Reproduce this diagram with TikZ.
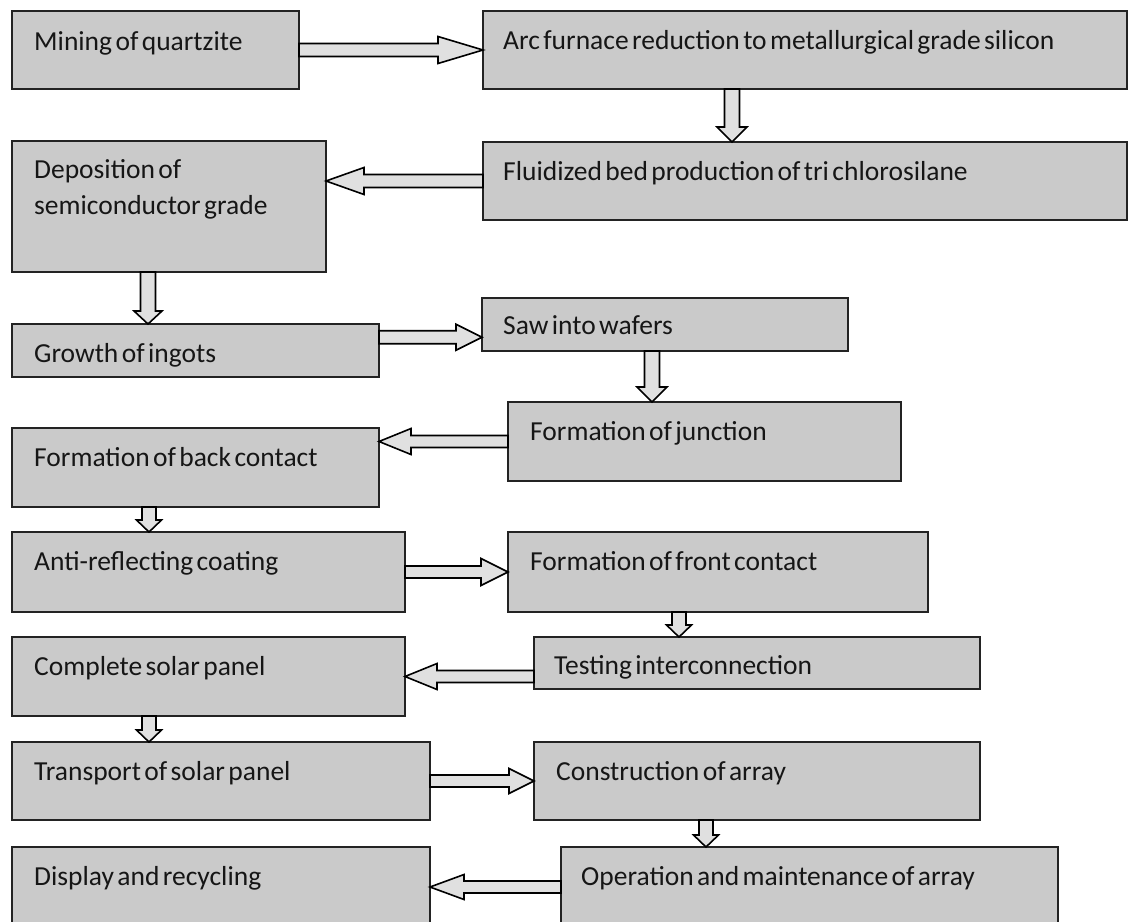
\documentclass[tikz,border=0pt]{standalone}
\usepackage{fontspec}
\setmainfont{Carlito}[WordSpace=0.55]
\usetikzlibrary{calc}
\definecolor{boxfill}{RGB}{202,202,202}
\definecolor{arrfill}{RGB}{224,224,224}
\definecolor{edge}{RGB}{35,35,35}
\definecolor{txt}{RGB}{22,22,22}
\tikzset{
  box/.style={draw=edge, line width=1.8pt, fill=boxfill, inner sep=0pt, outer sep=0pt, anchor=north west},
  lbl/.style={anchor=base west, inner sep=0pt, text=txt, font=\fontsize{27.5}{36}\selectfont},
  barrow/.style={draw=black, line width=1.6pt, fill=arrfill, line join=miter},
}
% #1 start, #2 tip, #3 head length, #4 half shaft width, #5 half head width
\newcommand{\blockarrow}[5]{%
  \path ($(#2)!#3!(#1)$) coordinate (ba-h);
  \draw[barrow] ($(#1)!#4!90:(#2)$) -- ($(ba-h)!#4!90:(#2)$) -- ($(ba-h)!#5!90:(#2)$)
    -- (#2) -- ($(ba-h)!#5!-90:(#2)$) -- ($(ba-h)!#4!-90:(#2)$) -- ($(#1)!#4!-90:(#2)$) -- cycle;
}
\begin{document}
\begin{tikzpicture}[x=1pt,y=-1pt]
\useasboundingbox (0,0) rectangle (1129,921);
\clip (0,0) rectangle (1129,921);
\fill[white] (0,0) rectangle (1129,921);

% boxes
\node[box, minimum width=287pt, minimum height=78pt] (b1) at (12,11) {};
\node[box, minimum width=644pt, minimum height=78pt] (b2) at (483,11) {};
\node[box, minimum width=644pt, minimum height=78pt] (b3) at (483,142) {};
\node[box, minimum width=314pt, minimum height=131pt] (b4) at (12,141) {};
\node[box, minimum width=367pt, minimum height=53pt] (b5) at (12,324) {};
\node[box, minimum width=366pt, minimum height=53pt] (b6) at (482,298) {};
\node[box, minimum width=393pt, minimum height=79pt] (b7) at (508,402) {};
\node[box, minimum width=367pt, minimum height=79pt] (b8) at (12,428) {};
\node[box, minimum width=393pt, minimum height=80pt] (b9) at (12,532) {};
\node[box, minimum width=420pt, minimum height=80pt] (b10) at (508,532) {};
\node[box, minimum width=446pt, minimum height=52pt] (b11) at (534,637) {};
\node[box, minimum width=393pt, minimum height=79pt] (b12) at (12,637) {};
\node[box, minimum width=418pt, minimum height=78pt] (b13) at (12,742) {};
\node[box, minimum width=446pt, minimum height=78pt] (b14) at (534,742) {};
\node[box, minimum width=418pt, minimum height=80pt] (b15) at (12,847) {};
\node[box, minimum width=497pt, minimum height=80pt] (b16) at (561,847) {};

% labels
\node[lbl] (t1) at ([shift={(22pt,-39pt)}]b1.north west) {Mining of quartzite};
\node[lbl] (t2) at ([shift={(20pt,-38pt)}]b2.north west) {Arc furnace reduction to metallurgical grade silicon};
\node[lbl] (t3) at ([shift={(20pt,-38pt)}]b3.north west) {Fluidized bed production of tri chlorosilane};
\node[lbl] (t4a) at ([shift={(22pt,-37pt)}]b4.north west) {Deposition of};
\node[lbl] (t4b) at ([shift={(22pt,-73pt)}]b4.north west) {semiconductor grade};
\node[lbl] (t5) at ([shift={(22pt,-38pt)}]b5.north west) {Growth of ingots};
\node[lbl] (t6) at ([shift={(21pt,-36pt)}]b6.north west) {Saw into wafers};
\node[lbl] (t7) at ([shift={(22pt,-38pt)}]b7.north west) {Formation of junction};
\node[lbl] (t8) at ([shift={(22pt,-38pt)}]b8.north west) {Formation of back contact};
\node[lbl] (t9) at ([shift={(22pt,-38pt)}]b9.north west) {Anti-reflecting coating};
\node[lbl] (t10) at ([shift={(22pt,-38pt)}]b10.north west) {Formation of front contact};
\node[lbl] (t11) at ([shift={(20pt,-37pt)}]b11.north west) {Testing interconnection};
\node[lbl] (t12) at ([shift={(22pt,-38pt)}]b12.north west) {Complete solar panel};
\node[lbl] (t13) at ([shift={(22pt,-38pt)}]b13.north west) {Transport of solar panel};
\node[lbl] (t14) at ([shift={(22pt,-38pt)}]b14.north west) {Construction of array};
\node[lbl] (t15) at ([shift={(22pt,-38pt)}]b15.north west) {Display and recycling};
\node[lbl] (t16) at ([shift={(20pt,-38pt)}]b16.north west) {Operation and maintenance of array};

% helper coordinates
\coordinate (x2) at (732,0);
\coordinate (x4) at (148,0);
\coordinate (x6) at (652,0);
\coordinate (x8) at (149,0);
\coordinate (x10) at (679,0);
\coordinate (x14) at (706,0);
\coordinate (a2s) at (b2.south -| x2);
\coordinate (a2e) at (b3.north -| x2);
\coordinate (a3e) at (b4.east |- b3.west);
\coordinate (a4s) at (b4.south -| x4);
\coordinate (a4e) at (b5.north -| x4);
\coordinate (a5s) at ($(b5.north east)!0.25!(b5.south east)$);
\coordinate (a5e) at (b6.west |- a5s);
\coordinate (a6s) at (b6.south -| x6);
\coordinate (a6e) at (b7.north -| x6);
\coordinate (a7e) at (b8.east |- b7.west);
\coordinate (a8s) at (b8.south -| x8);
\coordinate (a8e) at (b9.north -| x8);
\coordinate (a10s) at (b10.south -| x10);
\coordinate (a10e) at (b11.north -| x10);
\coordinate (a11s) at (b11.west |- b12.east);
\coordinate (a12s) at (b12.south -| x8);
\coordinate (a12e) at (b13.north -| x8);
\coordinate (a14s) at (b14.south -| x14);
\coordinate (a14e) at (b16.north -| x14);
\coordinate (a15e) at (b15.east |- b16.west);

% connectors
\blockarrow{b1.east}{b2.west}{45pt}{6.5pt}{13.5pt}
\blockarrow{a2s}{a2e}{15pt}{7.5pt}{15pt}
\blockarrow{b3.west}{a3e}{38pt}{6.5pt}{13.5pt}
\blockarrow{a4s}{a4e}{13pt}{7.5pt}{14pt}
\blockarrow{a5s}{a5e}{26pt}{6.5pt}{13pt}
\blockarrow{a6s}{a6e}{15pt}{7.5pt}{15pt}
\blockarrow{b7.west}{a7e}{32pt}{6pt}{13pt}
\blockarrow{a8s}{a8e}{12pt}{7pt}{12.5pt}
\blockarrow{b9.east}{b10.west}{27pt}{6pt}{13.5pt}
\blockarrow{a10s}{a10e}{12pt}{7pt}{12.5pt}
\blockarrow{a11s}{b12.east}{32pt}{6pt}{13pt}
\blockarrow{a12s}{a12e}{12pt}{7pt}{12.5pt}
\blockarrow{b13.east}{b14.west}{25pt}{6pt}{12.5pt}
\blockarrow{a14s}{a14e}{12pt}{7pt}{12.5pt}
\blockarrow{b16.west}{a15e}{34pt}{6pt}{12.5pt}
\end{tikzpicture}
\end{document}
